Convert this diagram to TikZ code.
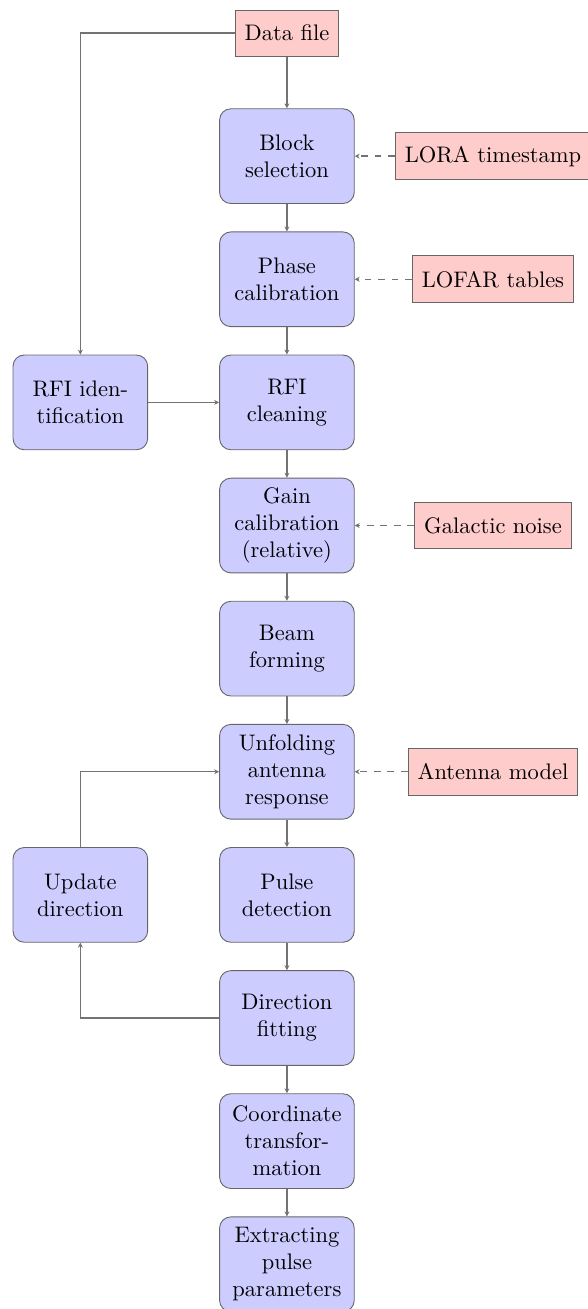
\documentclass[tikz,border=0pt]{standalone}
\usepackage{xcolor}
\usepackage{tikz}
\usetikzlibrary{positioning,arrows.meta}

\tikzset{
  block/.style={draw=black!60, fill=blue!20, rounded corners=5pt, text width=1.87cm, align=center, minimum height=1.48cm},
  source/.style={draw=black!60, fill=red!20, inner xsep=0.15cm, minimum height=0.73cm},
  line/.style={draw=black!55, semithick, -{Stealth[length=2.2pt,width=2.2pt]}},
  dline/.style={line, dashed}
}

\begin{document}
\begin{tikzpicture}[node distance=0.43cm and 1.11cm, every node/.style={scale=1.0}]
   \useasboundingbox (-4.484,0.516) rectangle (4.703,-19.94);

   \node[source] (data) [minimum height=0.72cm] {Data file};
   \node[block] (blocksel) [below=0.81cm of data] {Block\\selection};
   \node[block] (phase) [below=of blocksel] {Phase\\calibration};
   \node[block] (rficlean) [below=of phase] {RFI\\cleaning};
   \node[block] (gain) [below=of rficlean] {Gain\\calibration\\(relative)};
   \node[block] (beam) [below=of gain] {Beam\\forming};
   \node[block] (unfold) [below=of beam] {Unfolding\\antenna\\response};
   \node[block] (pulse) [below=of unfold] {Pulse\\detection};
   \node[block] (dirfit) [below=of pulse] {Direction\\fitting};
   \node[block] (coord) [below=of dirfit] {Coordinate\\transfor-\\mation};
   \node[block] (extract) [below=of coord] {Extracting\\pulse\\parameters};

   \node[block] (rfiid) [left=of rficlean] {RFI iden-\\tification};
   \node[block] (update) [left=of pulse] {Update\\direction};

   \node[source] (lora) [right=3.22cm of blocksel.center, anchor=center] {LORA timestamp};
   \node[source] (lofar) [right=3.22cm of phase.center, anchor=center] {LOFAR tables};
   \node[source] (galnoise) [right=3.22cm of gain.center, anchor=center] {Galactic noise};
   \node[source] (antmodel) [right=3.22cm of unfold.center, anchor=center] {Antenna model};

   \draw[line] (data) -- (blocksel);
   \draw[line] (blocksel) -- (phase);
   \draw[line] (phase) -- (rficlean);
   \draw[line] (rficlean) -- (gain);
   \draw[line] (gain) -- (beam);
   \draw[line] (beam) -- (unfold);
   \draw[line] (unfold) -- (pulse);
   \draw[line] (pulse) -- (dirfit);
   \draw[line] (dirfit) -- (coord);
   \draw[line] (coord) -- (extract);

   \draw[line] (data) -| (rfiid);
   \draw[line] (rfiid) -- (rficlean);
   \draw[line] (dirfit) -| (update);
   \draw[line] (update) |- (unfold);

   \draw[dline] (lora) -- (blocksel);
   \draw[dline] (lofar) -- (phase);
   \draw[dline] (galnoise) -- (gain);
   \draw[dline] (antmodel) -- (unfold);
\end{tikzpicture}
\end{document}
